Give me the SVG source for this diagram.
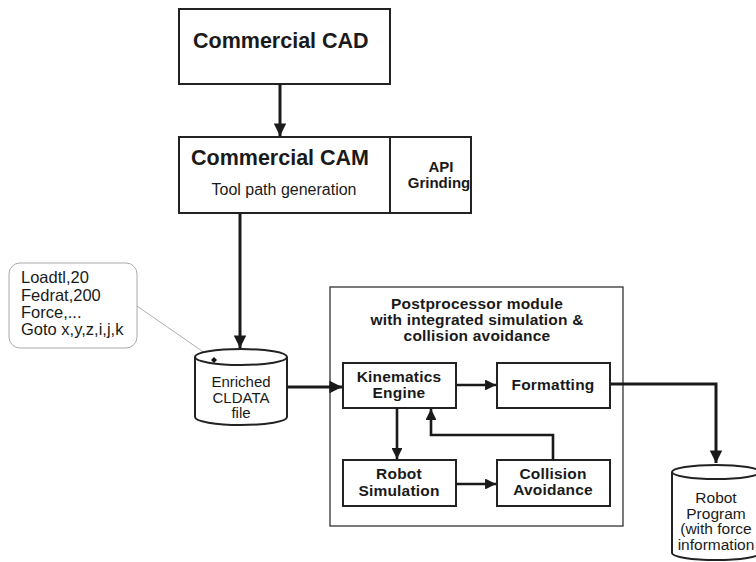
<svg xmlns="http://www.w3.org/2000/svg" width="756" height="562" viewBox="0 0 756 562">
<style>
.box{fill:#fff;stroke:#222;stroke-width:2}
.outer{fill:#fff;stroke:#333;stroke-width:1.3}
.t{font-family:"Liberation Sans",Arial,sans-serif;fill:#1a1a1a}
.b{font-weight:bold}
.c{text-anchor:middle}
.s{font-size:15.5px;letter-spacing:0.2px}
.w{fill:none;stroke:#1a1a1a;stroke-width:3}
.wi{fill:none;stroke:#1a1a1a;stroke-width:2.6}
</style>
<defs>
<marker id="ah" viewBox="0 0 10 10" refX="10" refY="5" markerWidth="4.6" markerHeight="4.2" orient="auto" markerUnits="strokeWidth">
<path d="M0,0 L10,5 L0,10 z" fill="#1a1a1a"/>
</marker>
</defs>
<rect width="756" height="562" fill="#fff"/>

<g id="cad">
<rect class="box" x="179" y="9" width="211" height="75"/>
<text class="t b" x="193" y="48" font-size="21.5">Commercial CAD</text>
</g>

<g id="cam">
<rect class="box" x="179" y="137" width="211" height="76"/>
<text class="t b" x="191" y="165" font-size="21.5">Commercial CAM</text>
<text class="t" x="284" y="195" font-size="16" text-anchor="middle">Tool path generation</text>
</g>

<g id="api">
<rect class="box" x="390" y="137" width="81" height="76"/>
<text class="t b c" x="441" y="172" font-size="15">API</text>
<text class="t b c" x="439" y="188" font-size="15">Grinding</text>
</g>

<g id="callout">
<rect x="9" y="263" width="128" height="85" rx="11" fill="#fff" stroke="#aaa" stroke-width="1"/>
<text class="t" x="21" y="283" font-size="16.5">Loadtl,20</text>
<text class="t" x="21" y="301" font-size="16.5">Fedrat,200</text>
<text class="t" x="21" y="318" font-size="16.5">Force,...</text>
<text class="t" x="21" y="335" font-size="16.5">Goto x,y,z,i,j,k</text>
<line x1="137" y1="306" x2="212" y2="358" stroke="#999" stroke-width="0.8"/>
</g>

<g id="cldata">
<path d="M195,357 L195,417 A46,8 0 0 0 287,417 L287,357" fill="#fff" stroke="#222" stroke-width="2"/>
<ellipse cx="241" cy="357" rx="46" ry="8" fill="#fff" stroke="#222" stroke-width="2"/>
<path d="M214,357 L217,360 L214,363 L211,360 z" fill="#111"/>
<text class="t c" x="241" y="387" font-size="15">Enriched</text>
<text class="t c" x="241" y="403" font-size="15">CLDATA</text>
<text class="t c" x="241" y="418" font-size="15">file</text>
</g>

<g id="postprocessor">
<rect class="outer" x="330" y="287" width="293" height="239"/>
<text class="t b c s" x="477" y="309">Postprocessor module</text>
<text class="t b c s" x="477" y="325">with integrated simulation &amp;</text>
<text class="t b c s" x="477" y="341">collision avoidance</text>
</g>

<g id="kinematics">
<rect class="box" x="343" y="363" width="113" height="45"/>
<text class="t b c s" x="399" y="382">Kinematics</text>
<text class="t b c s" x="399" y="398">Engine</text>
</g>

<g id="formatting">
<rect class="box" x="497" y="363" width="113" height="45"/>
<text class="t b c s" x="553" y="390">Formatting</text>
</g>

<g id="robotsim">
<rect class="box" x="343" y="460" width="113" height="46"/>
<text class="t b c s" x="399" y="479">Robot</text>
<text class="t b c s" x="399" y="496">Simulation</text>
</g>

<g id="collision">
<rect class="box" x="497" y="460" width="113" height="46"/>
<text class="t b c s" x="553" y="479">Collision</text>
<text class="t b c s" x="553" y="495">Avoidance</text>
</g>

<g id="robotprogram">
<path d="M672,472 L672,553 A44,7 0 0 0 760,553 L760,472" fill="#fff" stroke="#222" stroke-width="2"/>
<ellipse cx="716" cy="472" rx="44" ry="7" fill="#fff" stroke="#222" stroke-width="2"/>
<text class="t c" x="716" y="503" font-size="15.5">Robot</text>
<text class="t c" x="716" y="519" font-size="15.5">Program</text>
<text class="t c" x="716" y="534" font-size="15.5">(with force</text>
<text class="t c" x="716" y="550" font-size="15.5">information</text>
</g>

<g id="connectors">
<line class="w" x1="280" y1="84" x2="280" y2="136" marker-end="url(#ah)"/>
<line class="w" x1="240" y1="213" x2="240" y2="348" marker-end="url(#ah)"/>
<line class="w" x1="287" y1="387" x2="342" y2="387" marker-end="url(#ah)"/>
<line class="wi" x1="456" y1="385" x2="496" y2="385" marker-end="url(#ah)"/>
<line class="wi" x1="397" y1="408" x2="397" y2="459" marker-end="url(#ah)"/>
<line class="wi" x1="456" y1="484" x2="496" y2="484" marker-end="url(#ah)"/>
<polyline class="wi" points="553,460 553,435 431,435 431,409" marker-end="url(#ah)"/>
<polyline class="w" points="610,384 716,384 716,463" marker-end="url(#ah)"/>
</g>
</svg>
